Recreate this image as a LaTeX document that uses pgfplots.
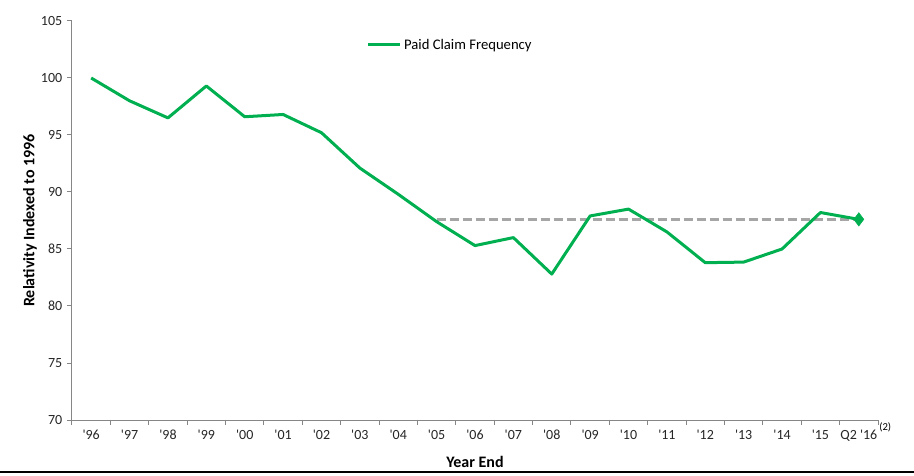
\documentclass[border=0pt]{standalone}
\usepackage{fontspec}
\setmainfont{Carlito}
\usepackage{pgfplots}
\pgfplotsset{compat=1.18}
\definecolor{lgreen}{RGB}{0,176,80}
\definecolor{dgrey}{RGB}{166,166,166}
\definecolor{axgrey}{RGB}{134,134,134}
\begin{document}
\begin{tikzpicture}
% bounding box: 914x475 px at 0.75pt per px, axis box at px (72..878, 21..420)
\path[use as bounding box] (-54pt,-41.25pt) rectangle (631.5pt,315pt);
\begin{axis}[
  at={(0pt,0pt)}, anchor=south west,
  scale only axis, width=604.5pt, height=299.25pt,
  xmin=-0.5, xmax=20.5, ymin=70, ymax=105,
  axis x line*=bottom, axis y line*=left,
  axis line style={axgrey, line width=0.75pt},
  ytick={70,75,...,105},
  xtick={0,...,20},
  xticklabels={\textquotesingle96,\textquotesingle97,\textquotesingle98,\textquotesingle99,\textquotesingle00,\textquotesingle01,\textquotesingle02,\textquotesingle03,\textquotesingle04,\textquotesingle05,\textquotesingle06,\textquotesingle07,\textquotesingle08,\textquotesingle09,\textquotesingle10,\textquotesingle11,\textquotesingle12,\textquotesingle13,\textquotesingle14,\textquotesingle15,Q2 \textquotesingle16},
  minor xtick={-0.5,0.5,...,20.5},
  tick align=outside,
  major tick length=3.75pt, minor tick length=3.75pt,
  major x tick style={draw=none},
  tick style={axgrey, line width=0.75pt},
  /pgf/number format/assume math mode=true,
  tick label style={font=\fontsize{10.5}{12}\selectfont, text=black!85},
  ylabel={Relativity Indexed to 1996},
  xlabel={Year End},
  label style={font=\fontsize{12}{14}\selectfont\bfseries},
  ylabel style={at={(axis description cs:-0.052,0.5)}, anchor=center},
  xlabel style={at={(axis description cs:0.5,-0.105)}, anchor=center},
  legend style={at={(axis description cs:0.36,0.94)}, anchor=west, draw=none, fill=none,
    font=\fontsize{11}{13}\selectfont},
  legend image code/.code={\draw[#1, line width=2.25pt] (0pt,0pt) -- (24pt,0pt);},
  clip=false,
]
\addplot[dgrey, line width=2.25pt, dash pattern=on 6.75pt off 3pt, forget plot]
  coordinates {(9,87.6)(20,87.6)};
\addplot[lgreen, line width=2.25pt, line join=round, mark=none] coordinates {
(0,100.0)(1,98.0)(2,96.5)(3,99.3)(4,96.6)(5,96.8)(6,95.2)(7,92.1)(8,89.8)(9,87.4)
(10,85.3)(11,86.0)(12,82.8)(13,87.9)(14,88.5)(15,86.5)(16,83.8)(17,83.85)(18,85.0)
(19,88.2)(20,87.6)};
\addlegendentry{Paid Claim Frequency}
\addplot[lgreen, only marks, mark=diamond*, mark size=5pt, forget plot]
  coordinates {(20,87.6)};
\end{axis}
\node[font=\fontsize{8}{9}\selectfont, anchor=west, inner sep=0pt] at (605.25pt,-5.25pt) {(2)};
\draw[black, line width=1.5pt] (-54pt,-38.8pt) -- (631.5pt,-38.8pt);
\end{tikzpicture}
\end{document}
